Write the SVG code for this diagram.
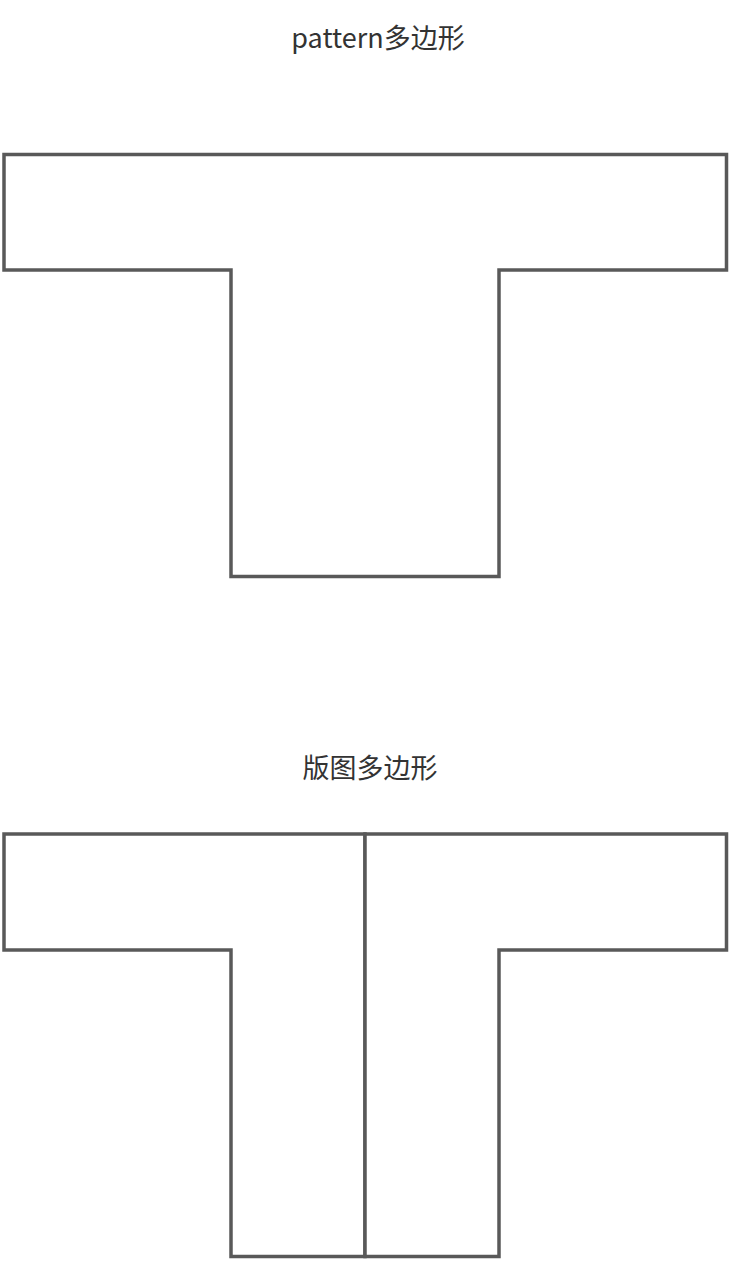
<svg xmlns="http://www.w3.org/2000/svg" width="730" height="1263" viewBox="0 0 730 1263">
<style>
.shape{fill:#ffffff;stroke:#595959;stroke-width:3.5;stroke-linejoin:miter}
.label{font-family:"Noto Sans CJK SC","Noto Sans",sans-serif;font-size:27px;fill:#333333;text-anchor:middle}
</style>
<rect width="730" height="1263" fill="#ffffff"/>
<g id="title-pattern">
<text class="label" x="378" y="48">pattern多边形</text>
</g>
<g id="pattern-polygon">
<polygon class="shape" points="4,154.5 726.5,154.5 726.5,270 499,270 499,576.5 231,576.5 231,270 4,270"/>
</g>
<g id="title-layout">
<text class="label" x="370" y="778">版图多边形</text>
</g>
<g id="layout-polygon-left">
<polygon class="shape" points="4,834 365,834 365,1256.5 231,1256.5 231,950 4,950"/>
</g>
<g id="layout-polygon-right">
<polygon class="shape" points="365,834 726.5,834 726.5,950 499,950 499,1256.5 365,1256.5"/>
</g>
<g id="connectors"></g>
</svg>
